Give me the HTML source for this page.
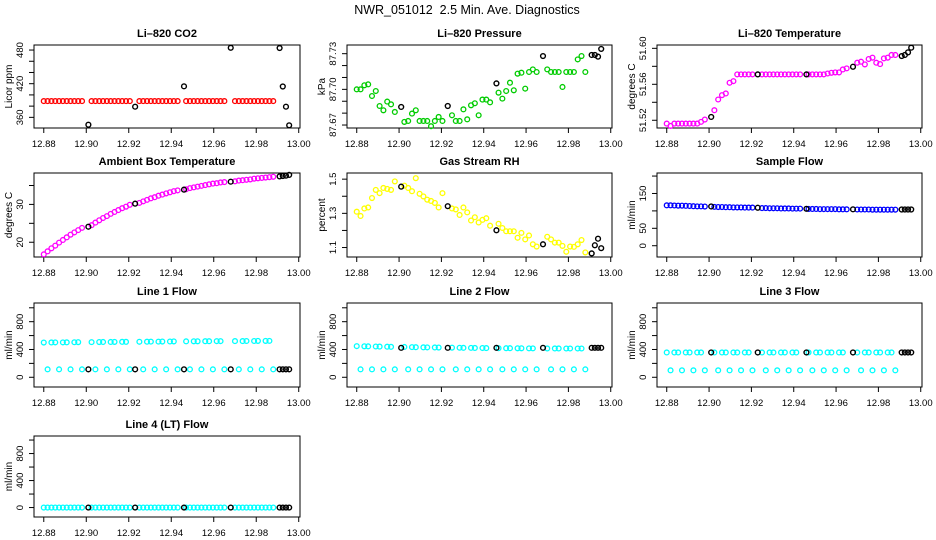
<!DOCTYPE html>
<html><head><meta charset="utf-8">
<style>
html,body{margin:0;padding:0;background:#fff;}
svg{display:block;font-family:"Liberation Sans",sans-serif;}
</style></head>
<body>
<svg id="chart" width="936" height="540" viewBox="0 0 936 540" xmlns="http://www.w3.org/2000/svg">
<text x="467" y="14" text-anchor="middle" font-size="12.5" style="white-space:pre" xml:space="preserve">NWR_051012  2.5 Min. Ave. Diagnostics</text>
</svg>
<script>
// shared time axis
const times = [12.880,12.8818,12.8836,12.8854,12.8872,12.889,12.8908,12.8926,12.8944,12.8962,12.898,
12.9025,12.9043,12.9061,12.9079,12.9097,12.9115,12.9133,12.9151,12.9169,12.9187,12.9205,
12.925,12.9268,12.9286,12.9304,12.9322,12.934,12.9358,12.9376,12.9394,12.9412,12.943,
12.947,12.9488,12.9506,12.9524,12.9542,12.956,12.9578,12.9596,12.9614,12.9632,12.965,
12.970,12.9718,12.9736,12.9754,12.9772,12.979,12.9808,12.9826,12.9844,12.9862,12.988];
const blackTimes = [12.901,12.923,12.946,12.968,12.991,12.9925,12.994,12.9955];
const xTicks = [12.88,12.90,12.92,12.94,12.96,12.98,13.00];
const xTickLabels = ["12.88","12.90","12.92","12.94","12.96","12.98","13.00"];

const co2 = [389,389,389,389,389,389,389,389,389,389,389, 389,389,389,389,389,389,389,389,389,389,389,
389,389,389,389,389,389,389,389,389,389,389, 389,389,389,389,389,389,389,389,389,389,389,
389,389,389,389,389,389,389,389,389,389,389];
const co2Black = [346.8,379,415.3,484,483.6,415,379,345.8];

const pressure = [87.700,87.700,87.7034,87.7042,87.6944,87.6986,87.686,87.6824,87.6897,87.6874,87.681,
87.6726,87.6734,87.6796,87.6824,87.6734,87.6734,87.6734,87.669,87.6734,87.6768,87.6734,
87.6782,87.6734,87.6734,87.6832,87.6748,87.6866,87.6883,87.6782,87.6914,87.6914,87.6891,
87.6972,87.6922,87.6986,87.7056,87.6992,87.7132,87.714,87.7006,87.7146,87.7168,87.7146,
87.7168,87.7146,87.7146,87.7146,87.702,87.7146,87.7146,87.7146,87.7252,87.728,87.7146];
const pressureBlack = [87.6852,87.686,87.705,87.728,87.7289,87.7289,87.7275,87.734];

const liTemp = [51.5163,51.5137,51.5163,51.5163,51.5163,51.5163,51.5163,51.5163,51.5163,51.5182,51.5208,
51.5312,51.5431,51.5479,51.5498,51.5617,51.5635,51.571,51.571,51.571,51.571,51.571,
51.571,51.571,51.571,51.571,51.571,51.571,51.571,51.571,51.571,51.571,51.571,
51.571,51.571,51.571,51.571,51.571,51.572,51.5728,51.5732,51.5732,51.5765,51.5777,
51.584,51.5851,51.5821,51.5881,51.5896,51.584,51.5825,51.5888,51.5896,51.5926,51.5926];
const liTempBlack = [51.5237,51.571,51.571,51.5795,51.5914,51.5926,51.5955,51.6007];

const ambient = [16.8,17.6,18.4,19.1,19.9,20.6,21.3,22.0,22.6,23.2,23.8,
24.5,25.2,25.8,26.4,26.9,27.5,28.0,28.5,29.0,29.4,29.9,
30.4,30.8,31.2,31.6,31.9,32.3,32.6,32.9,33.2,33.5,33.7,
34.0,34.3,34.5,34.7,34.9,35.1,35.3,35.5,35.6,35.8,35.9,
36.1,36.3,36.4,36.5,36.6,36.8,36.9,37.0,37.1,37.2,37.3];
const ambientBlack = [24.1,30.2,33.9,36.0,37.4,37.5,37.6,37.8];

const rh = [1.3095,1.2848,1.3286,1.3343,1.3895,1.4371,1.4181,1.4486,1.4429,1.4371,1.4867,
1.4619,1.4486,1.4295,1.5057,1.4143,1.399,1.38,1.3724,1.361,1.3343,1.4181,
1.3286,1.3229,1.2905,1.3343,1.3057,1.2581,1.2771,1.2467,1.2619,1.2714,1.2276,
1.239,1.2143,1.1952,1.1952,1.1952,1.1571,1.1857,1.1476,1.1705,1.119,1.1057,
1.1629,1.1476,1.1286,1.1286,1.1095,1.0752,1.1057,1.1038,1.119,1.1438,1.0714];
const rhBlack = [1.4562,1.3419,1.201,1.119,1.0657,1.1133,1.1514,1.0962];

const sampleFlow = [116,116,115.5,115,115,114.5,114,113.5,113,113,112.5,
111.5,111,111,110.5,110.5,110,110,110,109.5,109.5,109.5,
108,108,107.5,107.5,107.5,107,107,107,106.5,106.5,106.5,
105.5,105.5,105.5,105,105,105,105,105,104.5,104.5,104.5,
104,104,104,104,103.5,103.5,103.5,103.5,103.5,103.5,103.5];
const sampleFlowBlack = [112.7,109,106,104.5,104,104,104,104];

const line1 = [500,114,501,502,114,502,503,114,504,505,114, 506,114,507,508,114,508,509,114,510,510,114,
511,114,512,513,114,513,514,114,515,516,114, 517,114,518,518,114,519,519,114,520,520,114,
521,114,521,522,114,522,523,114,523,524,114];
const line1Black = [114,114,114,114,114,114,114,114];
const line2 = [448,114,446,445,114,443,442,114,440,438,114, 436,114,434,433,114,431,430,114,429,428,114,
426,114,425,424,114,423,422,114,421,420,114, 419,114,418,418,114,417,417,114,416,416,114,
415,114,415,415,114,414,414,114,414,414,114];
const line2Black = [424,424,424,424,424,424,424,424];
const line3 = [357,100,357,357,100,357,357,100,357,357,100, 357,100,357,357,100,357,357,100,357,357,100,
357,100,357,357,100,357,357,100,357,357,100, 357,100,357,357,100,357,357,100,357,357,100,
357,100,357,357,100,357,357,100,357,357,100];
const line3Black = [357,357,357,357,357,357,357,357];
const line4 = [0,0,0,0,0,0,0,0,0,0,0, 0,0,0,0,0,0,0,0,0,0,0, 0,0,0,0,0,0,0,0,0,0,0,
0,0,0,0,0,0,0,0,0,0,0, 0,0,0,0,0,0,0,0,0,0,0];
const line4Black = [0,0,0,0,0,0,0,0];

const flowTicks = [0,200,400,600,800,1000];
const flowLabels = ["0","","400","","800",""];

const NS = "http://www.w3.org/2000/svg";
const svg = document.getElementById('chart');
const colL = [34,347,657], colR = [300,612,922];
const rowT = [45,173,303,436], rowB = [128,257,387,517];
const XD = [12.8754,13.0006];

const panels = [
 {name:'co2',title:'Li\u2013820 CO2',ylab:'Licor ppm',c:0,r:0,yd:[341,489],vals:co2,blk:co2Black,col:'#ff0000',ticks:[360,380,400,420,440,460,480],labels:['360','','','420','','','480']},
 {name:'pressure',title:'Li\u2013820 Pressure',ylab:'kPa',c:1,r:0,yd:[87.6675,87.7373],vals:pressure,blk:pressureBlack,col:'#00cc00',ticks:[87.67,87.68,87.69,87.70,87.71,87.72,87.73],labels:['87.67','','','87.70','','','87.73']},
 {name:'li-temp',title:'Li\u2013820 Temperature',ylab:'degrees C',c:2,r:0,yd:[51.5114,51.6037],vals:liTemp,blk:liTempBlack,col:'#ff00ff',ticks:[51.52,51.54,51.56,51.58,51.60],labels:['51.52','','51.56','','51.60']},
 {name:'ambient-temp',title:'Ambient Box Temperature',ylab:'degrees C',c:0,r:1,yd:[16.1,38.3],vals:ambient,blk:ambientBlack,col:'#ff00ff',ticks:[20,25,30,35],labels:['20','','30','']},
 {name:'gas-rh',title:'Gas Stream RH',ylab:'percent',c:1,r:1,yd:[1.0446,1.536],vals:rh,blk:rhBlack,col:'#ffff00',ticks:[1.1,1.2,1.3,1.4,1.5],labels:['1.1','','1.3','','1.5']},
 {name:'sample-flow',title:'Sample Flow',ylab:'ml/min',c:2,r:1,yd:[-32.4,208.8],vals:sampleFlow,blk:sampleFlowBlack,col:'#0000ff',ticks:[0,50,100,150,200],labels:['0','50','','150','']},
 {name:'line1-flow',title:'Line 1 Flow',ylab:'ml/min',c:0,r:2,yd:[-140,1069],vals:line1,blk:line1Black,col:'#00ffff',ticks:flowTicks,labels:flowLabels},
 {name:'line2-flow',title:'Line 2 Flow',ylab:'ml/min',c:1,r:2,yd:[-140,1069],vals:line2,blk:line2Black,col:'#00ffff',ticks:flowTicks,labels:flowLabels},
 {name:'line3-flow',title:'Line 3 Flow',ylab:'ml/min',c:2,r:2,yd:[-140,1069],vals:line3,blk:line3Black,col:'#00ffff',ticks:flowTicks,labels:flowLabels},
 {name:'line4-flow',title:'Line 4 (LT) Flow',ylab:'ml/min',c:0,r:3,yd:[-140,1060],vals:line4,blk:line4Black,col:'#00ffff',ticks:flowTicks,labels:flowLabels}
];

function mk(tag, attrs, parent){
  const e = document.createElementNS(NS, tag);
  for (const k in attrs) e.setAttribute(k, attrs[k]);
  (parent||svg).appendChild(e);
  return e;
}

panels.forEach(p => {
  const L = colL[p.c], R = colR[p.c], T = rowT[p.r], B = rowB[p.r];
  const xs = v => L + (v - XD[0]) / (XD[1] - XD[0]) * (R - L);
  const ys = v => B - (v - p.yd[0]) / (p.yd[1] - p.yd[0]) * (B - T);
  const g = mk('g', {});
  
  
  const t = mk('text', {x:(L+R)/2, y:T-8, 'text-anchor':'middle', 'font-size':'11', 'font-weight':'bold'}, g);
  t.textContent = p.title;
  
  
  const box = mk('rect', {x:L, y:T, width:R-L, height:B-T, fill:'none', stroke:'#000', 'stroke-width':'1'}, g);
  
  
  // x axis
  const xa = mk('g', {}, g);
  
  
  xTicks.forEach((v, i) => {
    const x = xs(v);
    mk('line', {x1:x, x2:x, y1:B, y2:B+5, stroke:'#000'}, xa);
    const tl = mk('text', {x:x, y:B+19, 'text-anchor':'middle', 'font-size':'9.5'}, xa);
    tl.textContent = xTickLabels[i];
  });
  // y axis
  const ya = mk('g', {}, g);
  
  
  p.ticks.forEach((v, i) => {
    const y = ys(v);
    mk('line', {x1:L-5, x2:L, y1:y, y2:y, stroke:'#000'}, ya);
    if (p.labels[i]) {
      const tl = mk('text', {x:0, y:0, 'text-anchor':'middle', 'font-size':'9.5', transform:`translate(${L-11},${y}) rotate(-90)`}, ya);
      tl.textContent = p.labels[i];
    }
  });
  const yl = mk('text', {x:0, y:0, 'text-anchor':'middle', 'font-size':'10', transform:`translate(${L-22},${(T+B)/2}) rotate(-90)`}, g);
  yl.textContent = p.ylab;
  
  
  // series
  const sg = mk('g', {fill:'none', stroke:p.col, 'stroke-width':'1.3'}, g);
  
  
  p.vals.forEach((v, i) => {
    const c = mk('circle', {cx:xs(times[i]), cy:ys(v), r:'2.4'}, sg);
    
    
  });
  const bg = mk('g', {fill:'none', stroke:'#000', 'stroke-width':'1.4'}, g);
  
  
  p.blk.forEach((v, i) => {
    const c = mk('circle', {cx:xs(blackTimes[i]), cy:ys(v), r:'2.4'}, bg);
    
    
  });
});
</script>
</body></html>
